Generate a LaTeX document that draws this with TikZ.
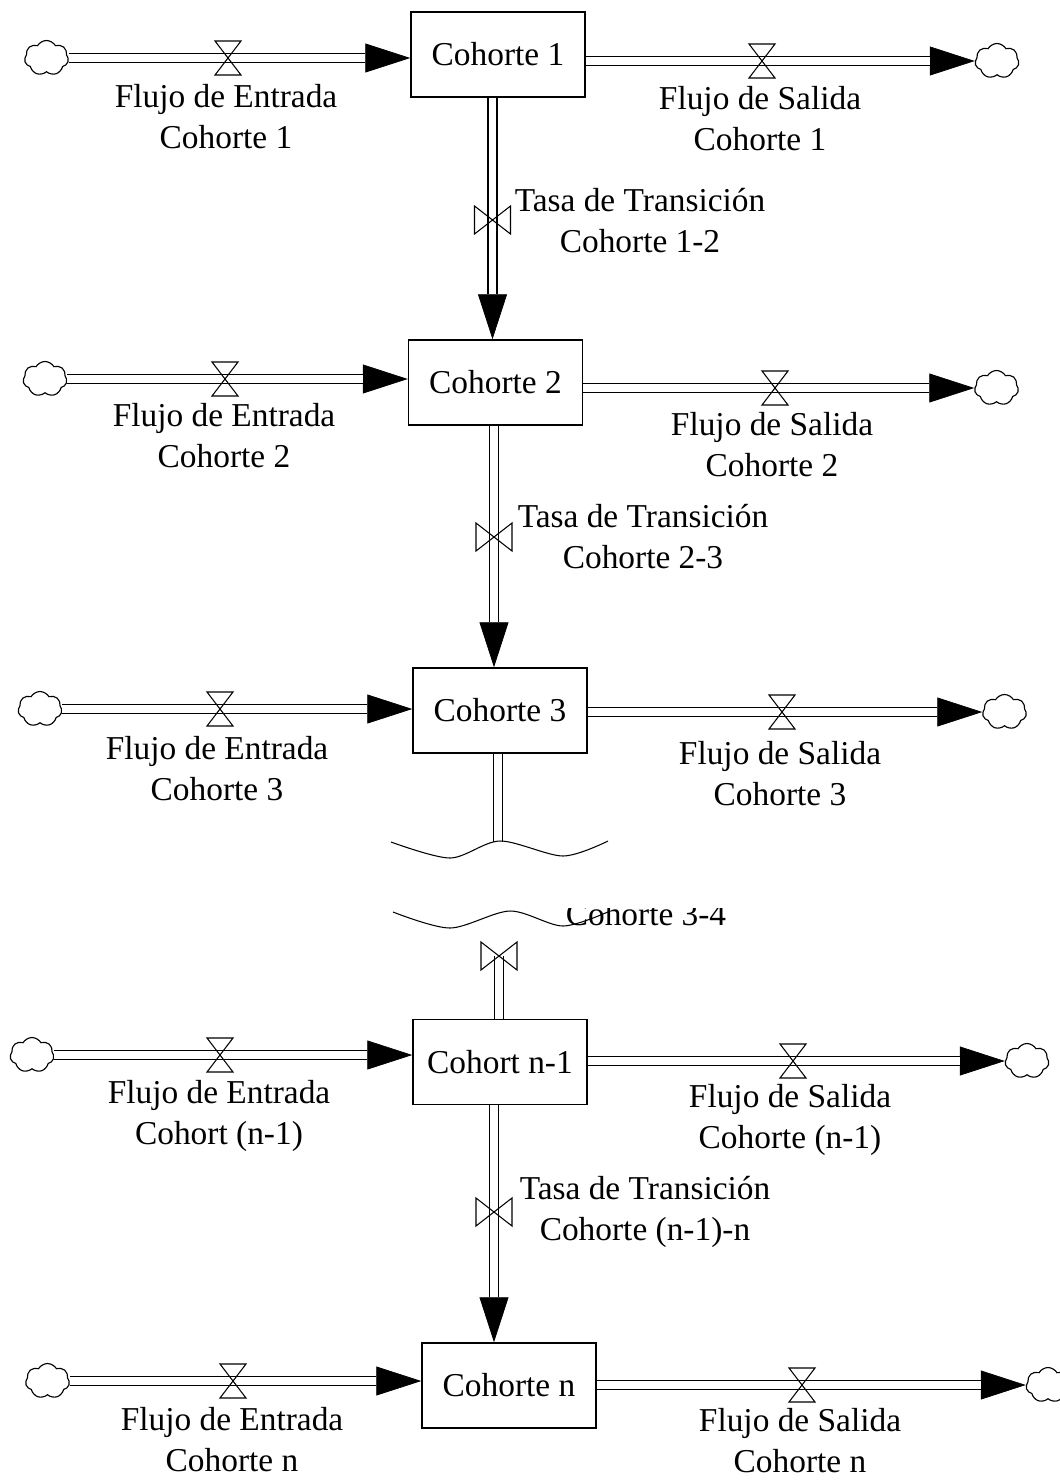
\documentclass[tikz,border=0pt]{standalone}
\usepackage{fontspec}
\setmainfont{Liberation Serif}
\usetikzlibrary{arrows.meta, shapes.symbols, calc}

\begin{document}
\begin{tikzpicture}[
      x=0.02cm, y=-0.02cm,
      stock/.style={draw, line width=0.85pt, minimum width=3.48cm, minimum height=1.7cm, inner sep=0pt, font=\fontsize{19}{23.3}\selectfont},
      sink/.style={cloud, draw, cloud puffs=7, cloud puff arc=120, minimum width=0.88cm, minimum height=0.7cm, inner sep=0pt, line width=0.65pt},
      pipe/.style={draw, double, line width=0.9pt, double distance=4.3pt},
      flow/.style={preaction={draw, line width=0.4pt, shorten >=0pt, -{Triangle[length=0.9cm, width=0.58cm]}},
                   pipe, shorten >=0.9cm},
      lbl/.style={align=center, font=\fontsize{19}{23.3}\selectfont, inner sep=0pt},
      valveh/.pic={\draw[line width=0.6pt] (-13,-17) -- (13,-17) -- (-13,17) -- (13,17) -- cycle;},
      valvev/.pic={\draw[line width=0.6pt] (-18,-14) -- (-18,14) -- (18,-14) -- (18,14) -- cycle;}
    ]
      \useasboundingbox (0,0) rectangle (1060,1481);

      % stocks
      \node[stock] (c1) at (498,54.5) {Cohorte 1};
      \node[stock] (c2) at (495.5,382.5) {Cohorte 2};
      \node[stock] (c3) at (500,710.5) {Cohorte 3};
      \node[stock] (cn1) at (500,1062) {Cohort n-1};
      \node[stock] (cn) at (509,1385.5) {Cohorte n};

      % sources and sinks
      \node[sink] (i1) at (46.5,58) {};
      \node[sink] (o1) at (997,61) {};
      \node[sink] (i2) at (45,379) {};
      \node[sink] (o2) at (996.5,388) {};
      \node[sink] (i3) at (40,709) {};
      \node[sink] (o3) at (1004.5,712) {};
      \node[sink] (in1) at (32,1055) {};
      \node[sink] (on1) at (1027,1061) {};
      \node[sink] (in) at (47.5,1381) {};
      \node[sink] (on) at (1048,1385) {};

      % inflows and outflows
      \draw[flow] (i1.east) -- (i1.east -| c1.west);
      \draw[flow] (c1.east |- o1.west) -- (o1.west);
      \draw[flow] (i2.east) -- (i2.east -| c2.west);
      \draw[flow] (c2.east |- o2.west) -- (o2.west);
      \draw[flow] (i3.east) -- (i3.east -| c3.west);
      \draw[flow] (c3.east |- o3.west) -- (o3.west);
      \draw[flow] (in1.east) -- (in1.east -| cn1.west);
      \draw[flow] (cn1.east |- on1.west) -- (on1.west);
      \draw[flow] (in.east) -- (in.east -| cn.west);
      \draw[flow] (cn.east |- on.west) -- (on.west);

      % transitions
      \coordinate (p12) at ($(c1.south)+(-5.5,0)$);
      \coordinate (p23) at ($(c2.south)+(-1.5,0)$);
      \coordinate (p34) at ($(c3.south)+(-2,0)$);
      \coordinate (brk) at (498,842);
      \coordinate (top) at (499,956);
      \coordinate (pnn) at ($(cn1.south)+(-6,0)$);
      \draw[flow] (p12) -- (p12 |- c2.north);
      \draw[flow] (p23) -- (p23 |- c3.north);
      \draw[pipe] (p34) -- (brk);
      \draw[pipe] (top) -- (top |- cn1.north);
      \draw[flow] (pnn) -- (pnn |- cn.north);

      % valves
      \path (228,58) pic {valveh} (762,61) pic {valveh};
      \path (225,379) pic {valveh} (775,388) pic {valveh};
      \path (220,709) pic {valveh} (782,712) pic {valveh};
      \path (220,1055) pic {valveh} (793,1061) pic {valveh};
      \path (233,1381) pic {valveh} (802,1385) pic {valveh};
      \path (492.5,220) pic {valvev} (494,537) pic {valvev};
      \path (499,956) pic {valvev} (494,1212) pic {valvev};

      % labels
      \node[lbl] (li1) at (226,117) {Flujo de Entrada\\Cohorte 1};
      \node[lbl] (lo1) at (760,119) {Flujo de Salida\\Cohorte 1};
      \node[lbl] (t12) at (640,221) {Tasa de Transición\\Cohorte 1-2};
      \node[lbl] (li2) at (224,436) {Flujo de Entrada\\Cohorte 2};
      \node[lbl] (lo2) at (772,445) {Flujo de Salida\\Cohorte 2};
      \node[lbl] (t23) at (643,537) {Tasa de Transición\\Cohorte 2-3};
      \node[lbl] (li3) at (217,769) {Flujo de Entrada\\Cohorte 3};
      \node[lbl] (lo3) at (780,774) {Flujo de Salida\\Cohorte 3};
      \begin{scope}
        \clip (540,908) rectangle (780,960);
        \node[lbl] (t34) at (646,894) {Tasa de Transición\\Cohorte 3-4};
      \end{scope}
      \node[lbl] (lin1) at (219,1116) {Flujo de Entrada\\Cohort (n-1)};
      \node[lbl] (lon1) at (790,1120) {Flujo de Salida\\Cohorte (n-1)};
      \node[lbl] (tnn) at (645,1212) {Tasa de Transición\\Cohorte (n-1)-n};
      \node[lbl] (lin) at (232,1440) {Flujo de Entrada\\Cohorte n};
      \node[lbl] (lon) at (800,1441) {Flujo de Salida\\Cohorte n};

      % break marks
      \draw[line width=0.6pt] plot[smooth] coordinates {(391,842) (450,858) (500,841) (563,856) (608,841)};
      \draw[line width=0.6pt] plot[smooth] coordinates {(393,912) (450,928) (510,911) (563,926) (610,911)};
    \end{tikzpicture}
\end{document}
